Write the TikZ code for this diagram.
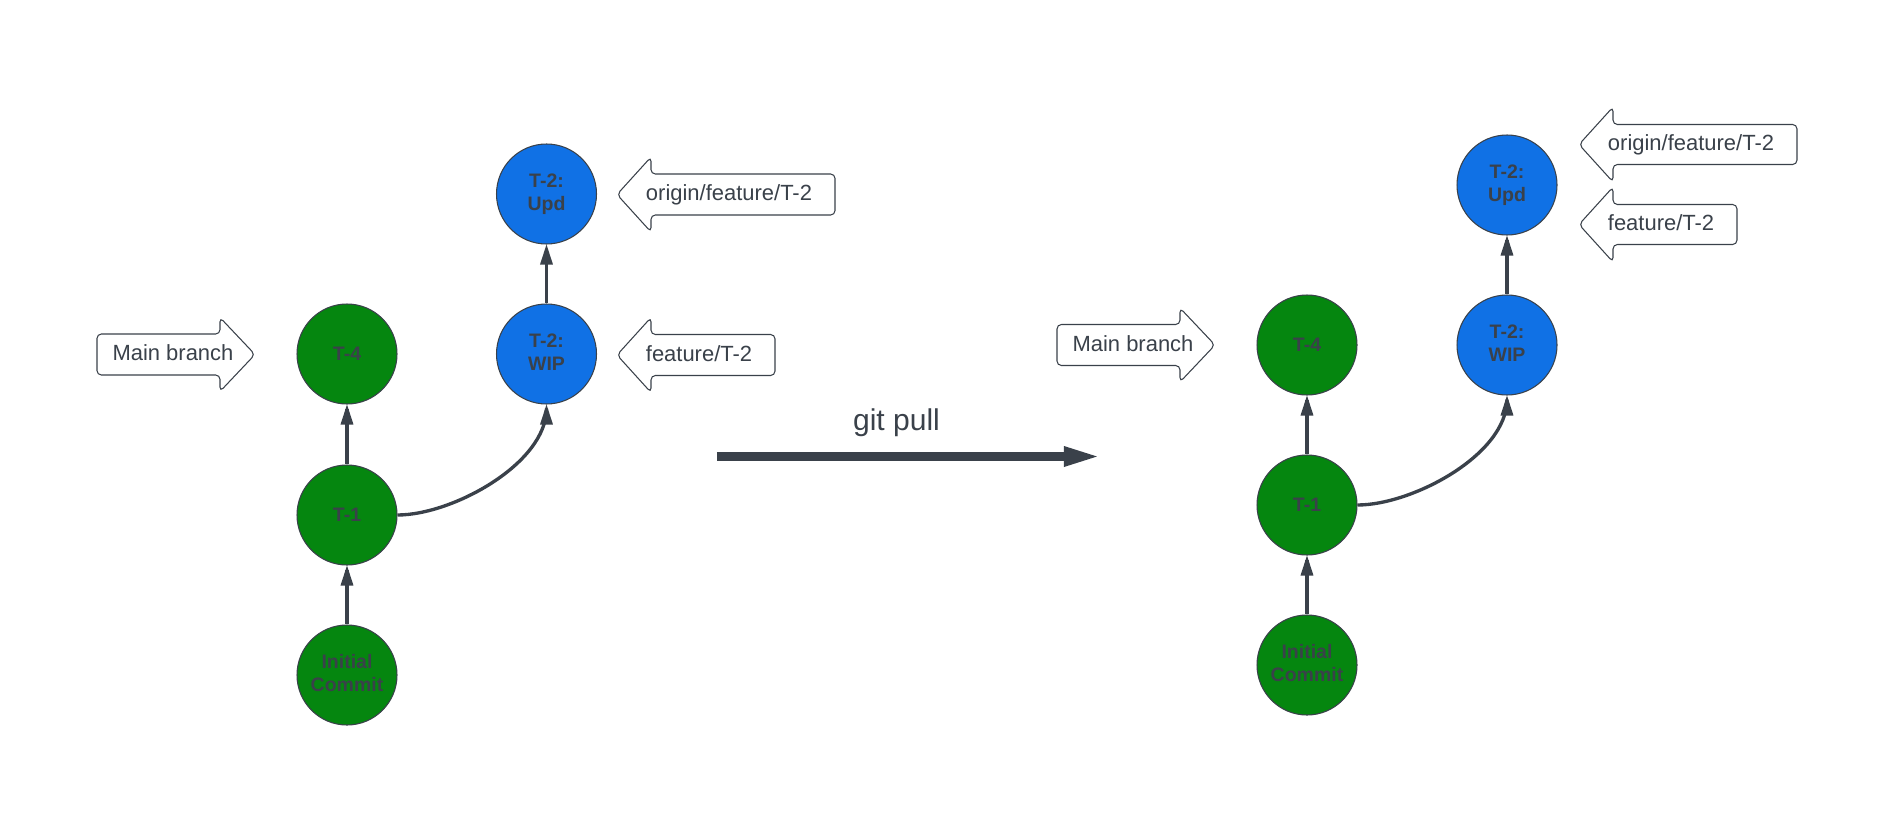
\documentclass[tikz,border=0pt]{standalone}
\usepackage{fontspec}
\setmainfont{Liberation Sans}
\definecolor{commitgreen}{HTML}{05860F}
\definecolor{commitblue}{HTML}{1071E5}
\definecolor{inkgray}{HTML}{3A414A}

\begin{document}
\begin{tikzpicture}[scale=0.2]
\tikzstyle{every node}+=[inner sep=0pt]
\tikzstyle{commit}=[circle, draw=inkgray, line width=0.6pt, minimum size=2cm, text=inkgray, font=\bfseries\fontsize{11.1}{13.1}\selectfont]
\tikzstyle{maincommit}=[commit, fill=commitgreen]
\tikzstyle{featcommit}=[commit, fill=commitblue]
\tikzstyle{edge}=[inkgray, line width=1.9pt]
\tikzstyle{tag}=[inkgray, fill=white, line width=0.6pt, rounded corners=2.5pt]
\tikzstyle{tagtext}=[anchor=base, text=inkgray, font=\fontsize{12.5}{15}\selectfont]
\useasboundingbox (0,0) rectangle (189.9,-83.8);
% before the pull
\node [maincommit] (linit) at (34.7,-67.5) {\begin{tabular}{@{}c@{}}Initial\\Commit\end{tabular}};
\node [maincommit] (lt1) at (34.7,-51.5) {T-1};
\node [maincommit] (lt4) at (34.7,-35.4) {T-4};
\node [featcommit] (lwip) at (54.65,-35.4) {\begin{tabular}{@{}c@{}}T-2:\\WIP\end{tabular}};
\node [featcommit] (lupd) at (54.65,-19.4) {\begin{tabular}{@{}c@{}}T-2:\\Upd\end{tabular}};
\draw [edge] (linit.north) -- ([yshift=-0.4cm]lt1.south);
\fill [edge] (lt1.south) -- ++(-0.65,-2) -- ++(1.3,0) -- cycle;
\draw [edge] (lt1.north) -- ([yshift=-0.4cm]lt4.south);
\fill [edge] (lt4.south) -- ++(-0.65,-2) -- ++(1.3,0) -- cycle;
\draw [edge] (lt1.east) .. controls +(5.5,0) and +(0,-5.5) .. ([yshift=-0.4cm]lwip.south);
\fill [edge] (lwip.south) -- ++(-0.65,-2) -- ++(1.3,0) -- cycle;
\draw [edge] (lwip.north) -- ([yshift=-0.4cm]lupd.south);
\fill [edge] (lupd.south) -- ++(-0.65,-2) -- ++(1.3,0) -- cycle;
\draw [tag] (9.7,-33.4) -- (22,-33.4) -- (22,-31.75) -- (25.5,-35.45) -- (22,-39.15) -- (22,-37.5) -- (9.7,-37.5) -- cycle;
\node [tagtext] (lmain) at (17.3,-36.05) {Main branch};
\draw [tag] (61.7,-19.45) -- (65.1,-15.7) -- (65.1,-17.4) -- (83.5,-17.4) -- (83.5,-21.5) -- (65.1,-21.5) -- (65.1,-23.2) -- cycle;
\node [tagtext] (lorigin) at (72.9,-20.05) {origin/feature/T-2};
\draw [tag] (61.7,-35.5) -- (65.1,-31.75) -- (65.1,-33.45) -- (77.5,-33.45) -- (77.5,-37.55) -- (65.1,-37.55) -- (65.1,-39.25) -- cycle;
\node [tagtext] (lfeature) at (69.9,-36.1) {feature/T-2};
% the pull
\coordinate (pullfrom) at (71.7,-45.65);
\coordinate (pullto) at (109.7,-45.65);
\draw [edge, line width=5.1pt, shorten >=0.66cm] (pullfrom) -- (pullto);
\fill [edge] (pullto) -- ++(-3.3,1.05) -- ++(0,-2.1) -- cycle;
\node [anchor=base, text=inkgray, font=\fontsize{17.1}{20}\selectfont] (pull) at (89.65,-43) {git pull};
% after the pull
\node [maincommit] (rinit) at (130.7,-66.5) {\begin{tabular}{@{}c@{}}Initial\\Commit\end{tabular}};
\node [maincommit] (rt1) at (130.7,-50.5) {T-1};
\node [maincommit] (rt4) at (130.7,-34.5) {T-4};
\node [featcommit] (rwip) at (150.7,-34.5) {\begin{tabular}{@{}c@{}}T-2:\\WIP\end{tabular}};
\node [featcommit] (rupd) at (150.7,-18.5) {\begin{tabular}{@{}c@{}}T-2:\\Upd\end{tabular}};
\draw [edge] (rinit.north) -- ([yshift=-0.4cm]rt1.south);
\fill [edge] (rt1.south) -- ++(-0.65,-2) -- ++(1.3,0) -- cycle;
\draw [edge] (rt1.north) -- ([yshift=-0.4cm]rt4.south);
\fill [edge] (rt4.south) -- ++(-0.65,-2) -- ++(1.3,0) -- cycle;
\draw [edge] (rt1.east) .. controls +(5.5,0) and +(0,-5.5) .. ([yshift=-0.4cm]rwip.south);
\fill [edge] (rwip.south) -- ++(-0.65,-2) -- ++(1.3,0) -- cycle;
\draw [edge] (rwip.north) -- ([yshift=-0.4cm]rupd.south);
\fill [edge] (rupd.south) -- ++(-0.65,-2) -- ++(1.3,0) -- cycle;
\draw [tag] (105.7,-32.45) -- (118,-32.45) -- (118,-30.8) -- (121.5,-34.5) -- (118,-38.2) -- (118,-36.55) -- (105.7,-36.55) -- cycle;
\node [tagtext] (rmain) at (113.3,-35.1) {Main branch};
\draw [tag] (157.9,-14.45) -- (161.3,-10.7) -- (161.3,-12.45) -- (179.7,-12.45) -- (179.7,-16.45) -- (161.3,-16.45) -- (161.3,-18.2) -- cycle;
\node [tagtext] (rorigin) at (169.1,-15.05) {origin/feature/T-2};
\draw [tag] (157.9,-22.45) -- (161.3,-18.7) -- (161.3,-20.45) -- (173.7,-20.45) -- (173.7,-24.45) -- (161.3,-24.45) -- (161.3,-26.2) -- cycle;
\node [tagtext] (rfeature) at (166.1,-23.05) {feature/T-2};
\end{tikzpicture}
\end{document}
